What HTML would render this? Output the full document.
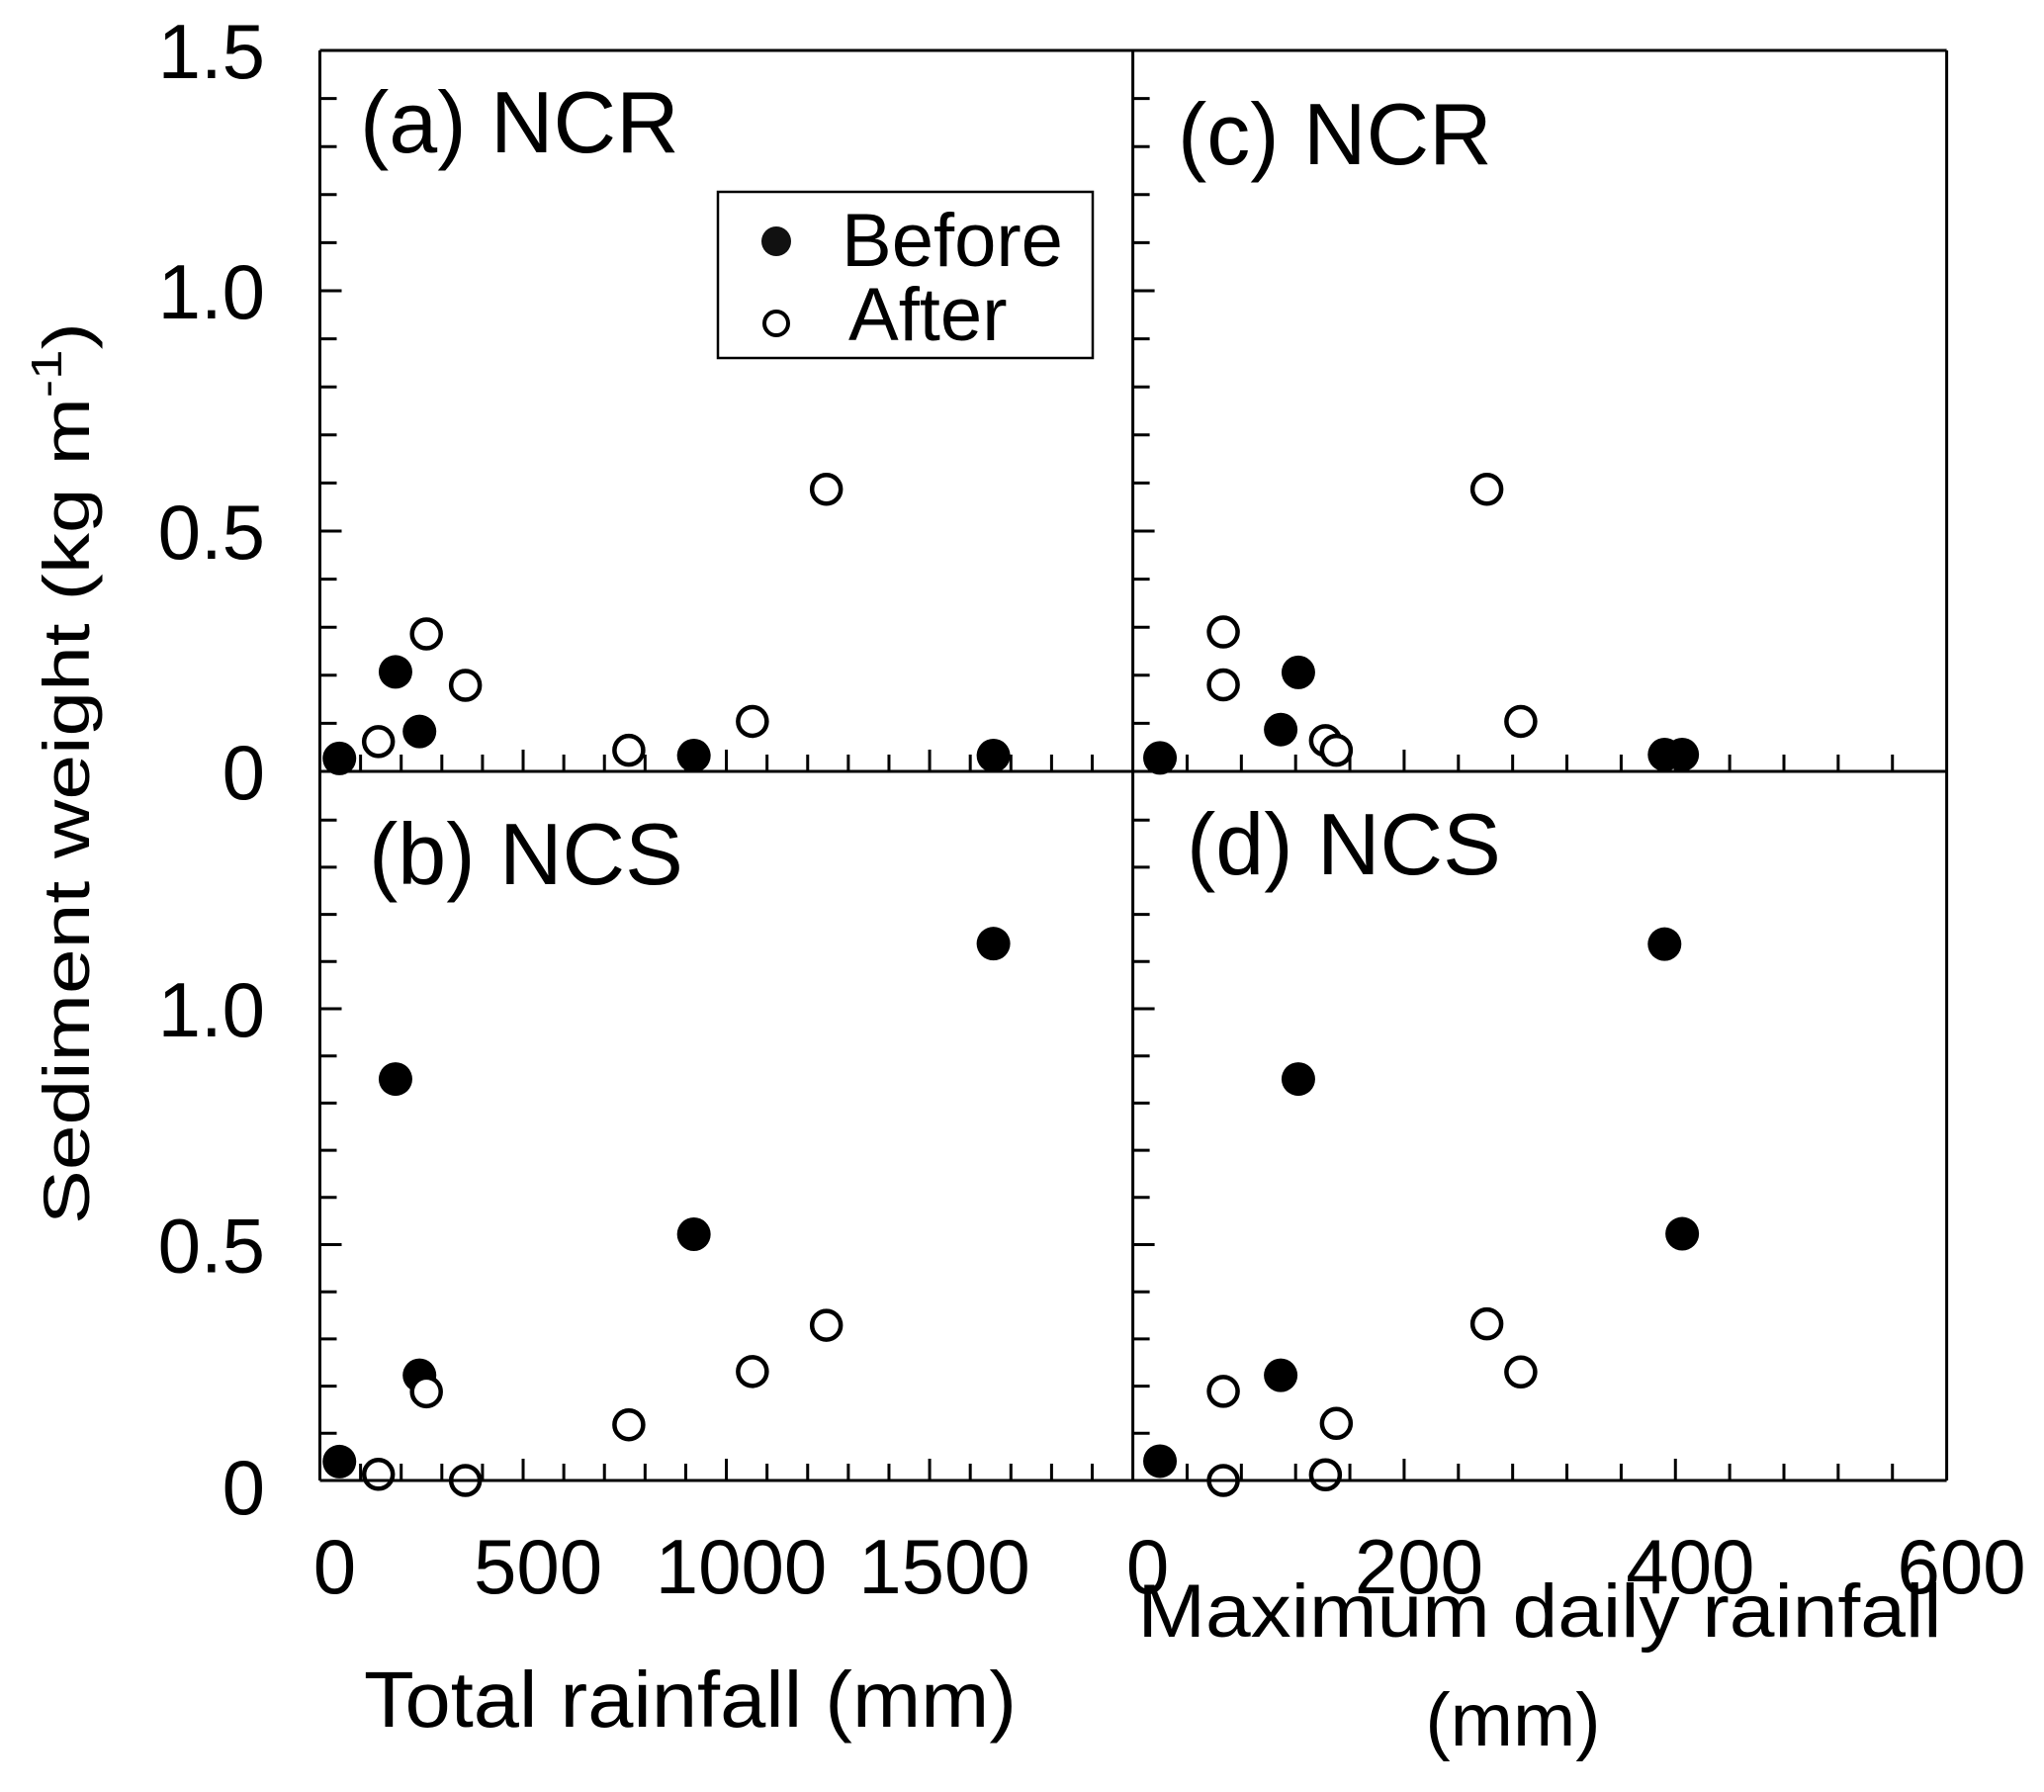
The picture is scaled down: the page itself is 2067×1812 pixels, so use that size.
<!DOCTYPE html>
<html><head><meta charset="utf-8"><style>
html,body{margin:0;padding:0;background:#fff;}
svg{display:block;font-family:"Liberation Sans",Arial,sans-serif;}
</style></head><body>
<svg id="chart" width="2067" height="1812" viewBox="0 0 2067 1812" xmlns="http://www.w3.org/2000/svg">
<rect width="2067" height="1812" fill="#fff"/>
<g id="marks"></g>
<g id="axes" stroke="#000" stroke-width="3" fill="none"></g>
<g id="labels" fill="#000"></g>
<text transform="translate(90,782) rotate(-90)" text-anchor="middle" font-size="66" fill="#000" textLength="912" lengthAdjust="spacingAndGlyphs">Sediment weight (kg m<tspan font-size="44" dy="-28">-1</tspan><tspan dy="28">)</tspan></text>
<text x="698" y="1746" text-anchor="middle" font-size="80" fill="#000" textLength="660" lengthAdjust="spacingAndGlyphs">Total rainfall (mm)</text>
<text x="1557" y="1655" text-anchor="middle" font-size="76" fill="#000" textLength="813" lengthAdjust="spacingAndGlyphs">Maximum daily rainfall</text>
<text x="1530" y="1765" text-anchor="middle" font-size="76" fill="#000">(mm)</text>
<g>
<rect x="726" y="194" width="379" height="168" fill="#fff" stroke="#000" stroke-width="2.5"/>
<circle cx="785" cy="244" r="15" fill="#111"/>
<circle cx="785" cy="327" r="12" fill="#fff" stroke="#000" stroke-width="4"/>
<text x="851" y="269" font-size="76" fill="#000">Before</text>
<text x="858" y="344" font-size="76" fill="#000">After</text>
</g>
</svg>
<script>
// ---- data ----
const totalBefore = [48, 186, 245, 920, 1657];
const totalAfter = [144, 262, 358, 760, 1064, 1246];
const maxBefore = [20, 122, 109, 392, 405];
const maxAfter = [66.7, 66.7, 142, 150, 261, 286];
const ncrBeforeTotal = [0.027, 0.207, 0.083, 0.033, 0.033];
const ncrAfterTotal = [0.062, 0.286, 0.179, 0.044, 0.104, 0.587];
const ncsBeforeTotal = [0.040, 0.851, 0.223, 0.522, 1.138];
const ncsAfterTotal = [0.013, 0.188, 0.0, 0.118, 0.231, 0.329];
const ncrBeforeMax = [0.028, 0.206, 0.087, 0.035, 0.035];
const ncrAfterMax = [0.29, 0.18, 0.064, 0.044, 0.587, 0.104];
const ncsBeforeMax = [0.041, 0.851, 0.223, 1.137, 0.523];
const ncsAfterMax = [0.0, 0.189, 0.012, 0.121, 0.332, 0.230];
const yTickLabelsTop = ["0", "0.5", "1.0", "1.5"];
const yTickLabelsBottom = ["0", "0.5", "1.0"];
const xTickLabelsTotal = ["0", "500", "1000", "1500"];
const xTickLabelsMax = ["0", "200", "400", "600"];

// ---- geometry ----
const L = 323.5, M = 1145.6, R = 1968.6, T = 51, MID = 780, B = 1497;
const xTotal = v => L + v * (M - L) / 2000;
const xMax = v => M + v * (R - M) / 600;
const yTop = v => MID - v * 486;
const yBot = v => B - v * 477;
const NS = "http://www.w3.org/2000/svg";
const marks = document.getElementById('marks');
const axes = document.getElementById('axes');
const labels = document.getElementById('labels');

function mk(tag, attrs, parent) {
  const e = document.createElementNS(NS, tag);
  for (const k in attrs) e.setAttribute(k, attrs[k]);
  parent.appendChild(e);
  return e;
}
function line(x1, y1, x2, y2, name) {
  const e = mk('line', {x1, y1, x2, y2}, axes);
  
  
}
function pts(xs, ys, xf, yf, filled, name) {
  xs.forEach((x, i) => {
    const c = filled
      ? mk('circle', {cx: xf(x), cy: yf(ys[i]), r: 17, fill: '#000'}, marks)
      : mk('circle', {cx: xf(x), cy: yf(ys[i]), r: 14.5, fill: '#fff', stroke: '#000', 'stroke-width': 4.5}, marks);
    
    
  });
}
function txt(x, y, s, size, anchor, name) {
  const e = mk('text', {x, y, 'font-size': size, 'text-anchor': anchor}, labels);
  e.textContent = s;
  
  
}

line(L, T, R, T, 'frame-top');
line(L, T, L, B, 'y-axis-left');
line(M, T, M, B, 'divider-vertical');
line(R, T, R, B, 'frame-right');
line(L, MID, R, MID, 'divider-horizontal');
line(L, B, R, B, 'x-axis-bottom');

for (let i = 1; i < 15; i++) {
  const len = i % 5 === 0 ? 22 : 17;
  line(L, yTop(i / 10), L + len, yTop(i / 10), 'y-tick-top-left');
  line(M, yTop(i / 10), M + len, yTop(i / 10), 'y-tick-top-mid');
  line(L, yBot(i / 10), L + len, yBot(i / 10), 'y-tick-bottom-left');
  line(M, yBot(i / 10), M + len, yBot(i / 10), 'y-tick-bottom-mid');
}
for (let i = 1; i < 20; i++) {
  const v = i * 100, len = i % 5 === 0 ? 22 : 17;
  line(xTotal(v), MID, xTotal(v), MID - len, 'x-tick-total-top');
  line(xTotal(v), B, xTotal(v), B - len, 'x-tick-total-bottom');
}
for (let i = 1; i < 15; i++) {
  const v = i * 40, len = i % 5 === 0 ? 22 : 17;
  line(xMax(v), MID, xMax(v), MID - len, 'x-tick-max-top');
  line(xMax(v), B, xMax(v), B - len, 'x-tick-max-bottom');
}

yTickLabelsTop.forEach(s => txt(268, yTop(parseFloat(s)) + 28, s, 78, 'end', 'y-tick-label'));
yTickLabelsBottom.forEach(s => txt(268, yBot(parseFloat(s)) + 28 + (s === "0" ? 6 : 0), s, 78, 'end', 'y-tick-label'));
xTickLabelsTotal.forEach(s => txt(xTotal(parseFloat(s)) + 15, 1611, s, 78, 'middle', 'x-tick-label-total'));
xTickLabelsMax.forEach(s => txt(xMax(parseFloat(s)) + 15, 1611, s, 78, 'middle', 'x-tick-label-max'));

txt(364, 154, "(a) NCR", 88, 'start', 'panel-title-a');
txt(373, 894, "(b) NCS", 88, 'start', 'panel-title-b');
txt(1191, 166, "(c) NCR", 88, 'start', 'panel-title-c');
txt(1200, 884, "(d) NCS", 88, 'start', 'panel-title-d');

pts(totalBefore, ncrBeforeTotal, xTotal, yTop, true, 'point-a-before');
pts(totalAfter, ncrAfterTotal, xTotal, yTop, false, 'point-a-after');
pts(totalBefore, ncsBeforeTotal, xTotal, yBot, true, 'point-b-before');
pts(totalAfter, ncsAfterTotal, xTotal, yBot, false, 'point-b-after');
pts(maxBefore, ncrBeforeMax, xMax, yTop, true, 'point-c-before');
pts(maxAfter, ncrAfterMax, xMax, yTop, false, 'point-c-after');
pts(maxBefore, ncsBeforeMax, xMax, yBot, true, 'point-d-before');
pts(maxAfter, ncsAfterMax, xMax, yBot, false, 'point-d-after');
</script>
</body></html>
